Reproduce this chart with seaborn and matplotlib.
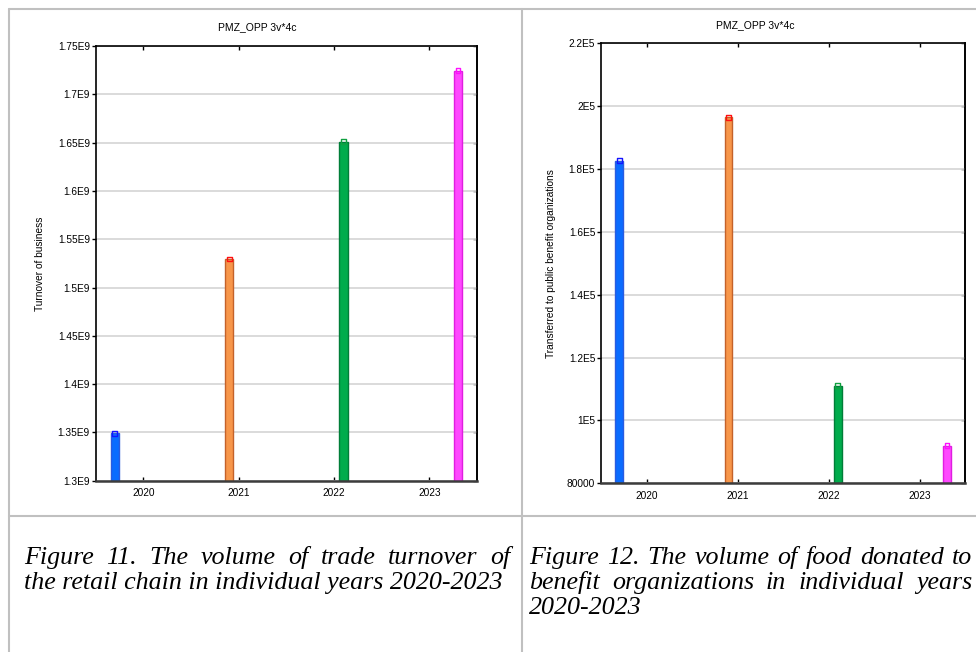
import matplotlib
matplotlib.use("Agg")
import matplotlib.pyplot as plt
from matplotlib.lines import Line2D
import numpy as np
import pandas as pd
import seaborn as sns

# ---- data -------------------------------------------------------------
years = ["2020", "2021", "2022", "2023"]
bar_pos = [0.2, 1.4, 2.6, 3.8]          # bar centres on the x scale
tick_pos = [0.5, 1.5, 2.5, 3.5]         # year label positions
turnover = [1.349e9, 1.5295e9, 1.651e9, 1.7245e9]
donated = [182600, 196500, 111000, 92000]

turnover_ticks = [1.30e9, 1.35e9, 1.40e9, 1.45e9, 1.50e9,
                  1.55e9, 1.60e9, 1.65e9, 1.70e9, 1.75e9]
turnover_ticklabels = ["1.3E9", "1.35E9", "1.4E9", "1.45E9", "1.5E9",
                       "1.55E9", "1.6E9", "1.65E9", "1.7E9", "1.75E9"]
donated_ticks = [80000, 100000, 120000, 140000, 160000, 180000, 200000, 220000]
donated_ticklabels = ["80000", "1E5", "1.2E5", "1.4E5", "1.6E5",
                      "1.8E5", "2E5", "2.2E5"]

chart_title = "PMZ_OPP 3v*4c"
ylabel_left = "Turnover of business"
ylabel_right = "Transferred to public benefit organizations"

caption_left = ["Figure 11. The volume of trade turnover of",
                "the retail chain in individual years 2020-2023"]
caption_right = ["Figure 12. The volume of food donated to",
                 "benefit organizations in individual years",
                 "2020-2023"]

# ---- style ------------------------------------------------------------
fill_colors = ["#0a6cff", "#f7964a", "#00ac4c", "#ff48ff"]
edge_colors = ["#2a5ce0", "#c4622a", "#007e38", "#e01ee0"]
marker_colors = ["#1414ff", "#ff1010", "#10a040", "#ff10ff"]

sns.set_style("white")
plt.rcParams["font.family"] = ["Liberation Sans", "DejaVu Sans"]
plt.rcParams["text.color"] = "black"
plt.rcParams["axes.labelcolor"] = "black"
plt.rcParams["xtick.color"] = "black"
plt.rcParams["ytick.color"] = "black"

W, H = 976, 652
fig = plt.figure(figsize=(W / 100, H / 100), dpi=100)
fig.patch.set_facecolor("white")


def fx(px):
    return px / W


def fy(py):
    return 1 - py / H


def axes_rect(x0, y0, x1, y1):
    return [fx(x0), fy(y1), (x1 - x0) / W, (y1 - y0) / H]


def draw_panel(ax, values, yticks, yticklabels, ylim, ylabel, ylabel_x):
    df = pd.DataFrame({"pos": bar_pos, "value": values, "year": years})
    sns.barplot(data=df, x="pos", y="value", hue="year", hue_order=years,
                palette=fill_colors, native_scale=True, dodge=False,
                width=0.085 / 1.2, errorbar=None, legend=False,
                linewidth=1.0, saturation=1, ax=ax)
    bars = sorted(ax.patches, key=lambda p: p.get_x())
    for patch, ec in zip(bars, edge_colors):
        patch.set_edgecolor(ec)
        patch.set_zorder(2)

    sns.scatterplot(x=bar_pos, y=values, marker="s", s=12, ax=ax,
                    legend=False, zorder=3)
    pts = ax.collections[-1]
    pts.set_facecolor("none")
    pts.set_edgecolor(marker_colors)
    pts.set_linewidth(1.0)

    ax.set_xlim(0, 4)
    ax.set_ylim(*ylim)
    ax.set_xticks(tick_pos)
    ax.set_xticklabels(years)
    ax.set_yticks(yticks)
    ax.set_yticklabels(yticklabels)
    ax.set_xlabel("")
    ax.set_ylabel("")

    ax.set_axisbelow(True)
    ax.yaxis.grid(True, color="#d8d8d8", linewidth=1.3)
    ax.xaxis.grid(False)

    ax.tick_params(axis="x", direction="in", length=3, width=1.0,
                   top=True, bottom=True, labelsize=7.3, pad=5.5,
                   colors="black")
    ax.tick_params(axis="y", direction="out", length=3, width=1.0,
                   left=True, right=False, labelsize=7.3, pad=1.2,
                   colors="black")
    sec = ax.secondary_yaxis("right")
    sec.set_yticks(yticks)
    sec.tick_params(direction="in", length=3, width=1.0, labelright=False)
    sec.spines["right"].set_linewidth(1.2)
    sec.spines["right"].set_color("black")

    for side in ("left", "top", "right"):
        ax.spines[side].set_visible(True)
        ax.spines[side].set_color("black")
        ax.spines[side].set_linewidth(1.2)
    ax.spines["bottom"].set_color("#3c3c3c")
    ax.spines["bottom"].set_linewidth(1.8)

    ax.text(ylabel_x, 0.5, ylabel, transform=ax.transAxes, rotation=90,
            ha="center", va="center", fontsize=7.3, color="black")


ax1 = fig.add_axes(axes_rect(95.7, 46, 477, 480.7))
draw_panel(ax1, turnover, turnover_ticks, turnover_ticklabels,
           (1.30e9, 1.75e9), ylabel_left, (40 - 95.7) / 381.3)

ax2 = fig.add_axes(axes_rect(601, 43.3, 965.3, 483.3))
draw_panel(ax2, donated, donated_ticks, donated_ticklabels,
           (80000, 220000), ylabel_right, (550.7 - 601) / 364.3)

fig.text(fx(257), fy(27), chart_title, ha="center", va="center",
         fontsize=7.5, color="black")
fig.text(fx(755.5), fy(25), chart_title, ha="center", va="center",
         fontsize=7.5, color="black")

# ---- table grid -------------------------------------------------------
grid_kw = dict(color="#c0c0c0", linewidth=1.5, transform=fig.transFigure)
fig.add_artist(Line2D([fx(9), fx(W)], [fy(8.5), fy(8.5)], **grid_kw))
fig.add_artist(Line2D([fx(9), fx(W)], [fy(515.5), fy(515.5)], **grid_kw))
fig.add_artist(Line2D([fx(9), fx(9)], [fy(8.5), fy(H)], **grid_kw))
fig.add_artist(Line2D([fx(522), fx(522)], [fy(8.5), fy(H)], **grid_kw))

# ---- captions ---------------------------------------------------------
cap_font = dict(family="Liberation Serif", style="italic", fontsize=18.7,
                color="black")
renderer = fig.canvas.get_renderer()


def caption_line(text, x0, y, x1=None):
    """Draw one caption line; when x1 is given the words are justified."""
    if x1 is None:
        fig.text(fx(x0), fy(y), text, ha="left", va="baseline", **cap_font)
        return
    words = text.split(" ")
    widths = []
    for w in words:
        t = fig.text(0, 0, w, **cap_font)
        widths.append(t.get_window_extent(renderer).width)
        t.remove()
    gap = (x1 - x0 - sum(widths)) / (len(words) - 1)
    x = x0
    for w, wd in zip(words, widths):
        fig.text(fx(x), fy(y), w, ha="left", va="baseline", **cap_font)
        x += wd + gap


caption_line(caption_left[0], 24, 564, 510.5)
caption_line(caption_left[1], 24, 589)
caption_line(caption_right[0], 529, 564, 972)
caption_line(caption_right[1], 529, 589, 972)
caption_line(caption_right[2], 529, 614)

fig.savefig("out.png", dpi=100, facecolor="white")
